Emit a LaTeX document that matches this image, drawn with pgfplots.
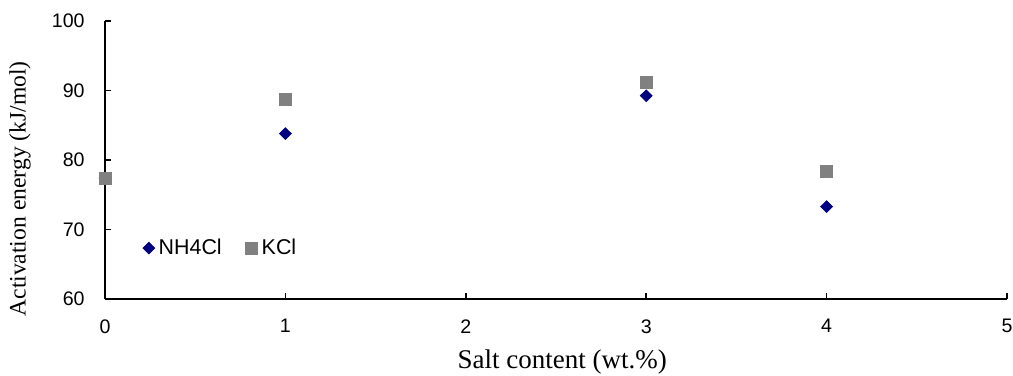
\documentclass[border=0pt]{standalone}
\usepackage{pgfplots}
\pgfplotsset{compat=1.18}
\usepackage{fontspec}
\setmainfont{Liberation Serif}
\newfontfamily\arial{Liberation Sans}
\definecolor{navyc}{RGB}{0,0,128}
\definecolor{grayc}{RGB}{128,128,128}
\pgfplotsset{markonly legend/.style={legend image code/.code={\draw[##1] plot coordinates {(0pt,0pt)};}}}
\begin{document}
\begin{tikzpicture}
\begin{axis}[
 name=ax,
 scale only axis, width=451pt, height=139pt,
 xmin=0, xmax=5, ymin=60, ymax=100,
 xtick={0,1,2,3,4,5}, ytick={60,70,80,90,100},
 axis lines*=left,
 axis line style={line width=0.8pt, black},
 tick align=inside,
 major tick length=3pt,
 tick style={line width=0.8pt, black},
 clip=false,
 ticklabel style={font=\arial\fontsize{9.8}{11}\selectfont},
 /pgf/number format/assume math mode=true,
 xticklabel style={anchor=north, inner sep=0pt, yshift=-10pt},
 yticklabel style={anchor=east, inner sep=0pt, xshift=-10pt},
 xlabel={Salt content (wt.\%)},
 ylabel={Activation energy (kJ/mol)},
 xlabel style={at={(axis description cs:0.507,-0.2518)}, anchor=base, inner sep=0pt, font=\fontsize{13.5}{15}\selectfont},
 ylabel style={at={(axis description cs:-0.0942,0.396)}, anchor=center, inner sep=0pt, font=\fontsize{11.8}{13}\selectfont},
 legend style={at={(axis description cs:0.035,0.183)}, anchor=west, draw=none, fill=none, legend columns=2,
   font=\arial\fontsize{10.7}{12}\selectfont,
   /tikz/every even column/.append style={column sep=10pt}},
]
\addplot[only marks, mark=diamond*, mark size=2.9pt, mark options={xscale=1.35, fill=navyc, draw=navyc}, markonly legend]
  coordinates {(0,77.4) (1,83.8) (3,89.25) (4,73.3)};
\addlegendentry{NH4Cl}
\addplot[only marks, mark=square*, mark size=3pt, mark options={fill=grayc, draw=grayc}, markonly legend]
  coordinates {(0,77.4) (1,88.7) (3,91.2) (4,78.4)};
\addlegendentry{KCl}
\end{axis}
\path ([xshift=-52.5pt,yshift=-38.5pt]ax.south west) rectangle ([xshift=3pt,yshift=10.5pt]ax.north east);
\end{tikzpicture}
\end{document}
